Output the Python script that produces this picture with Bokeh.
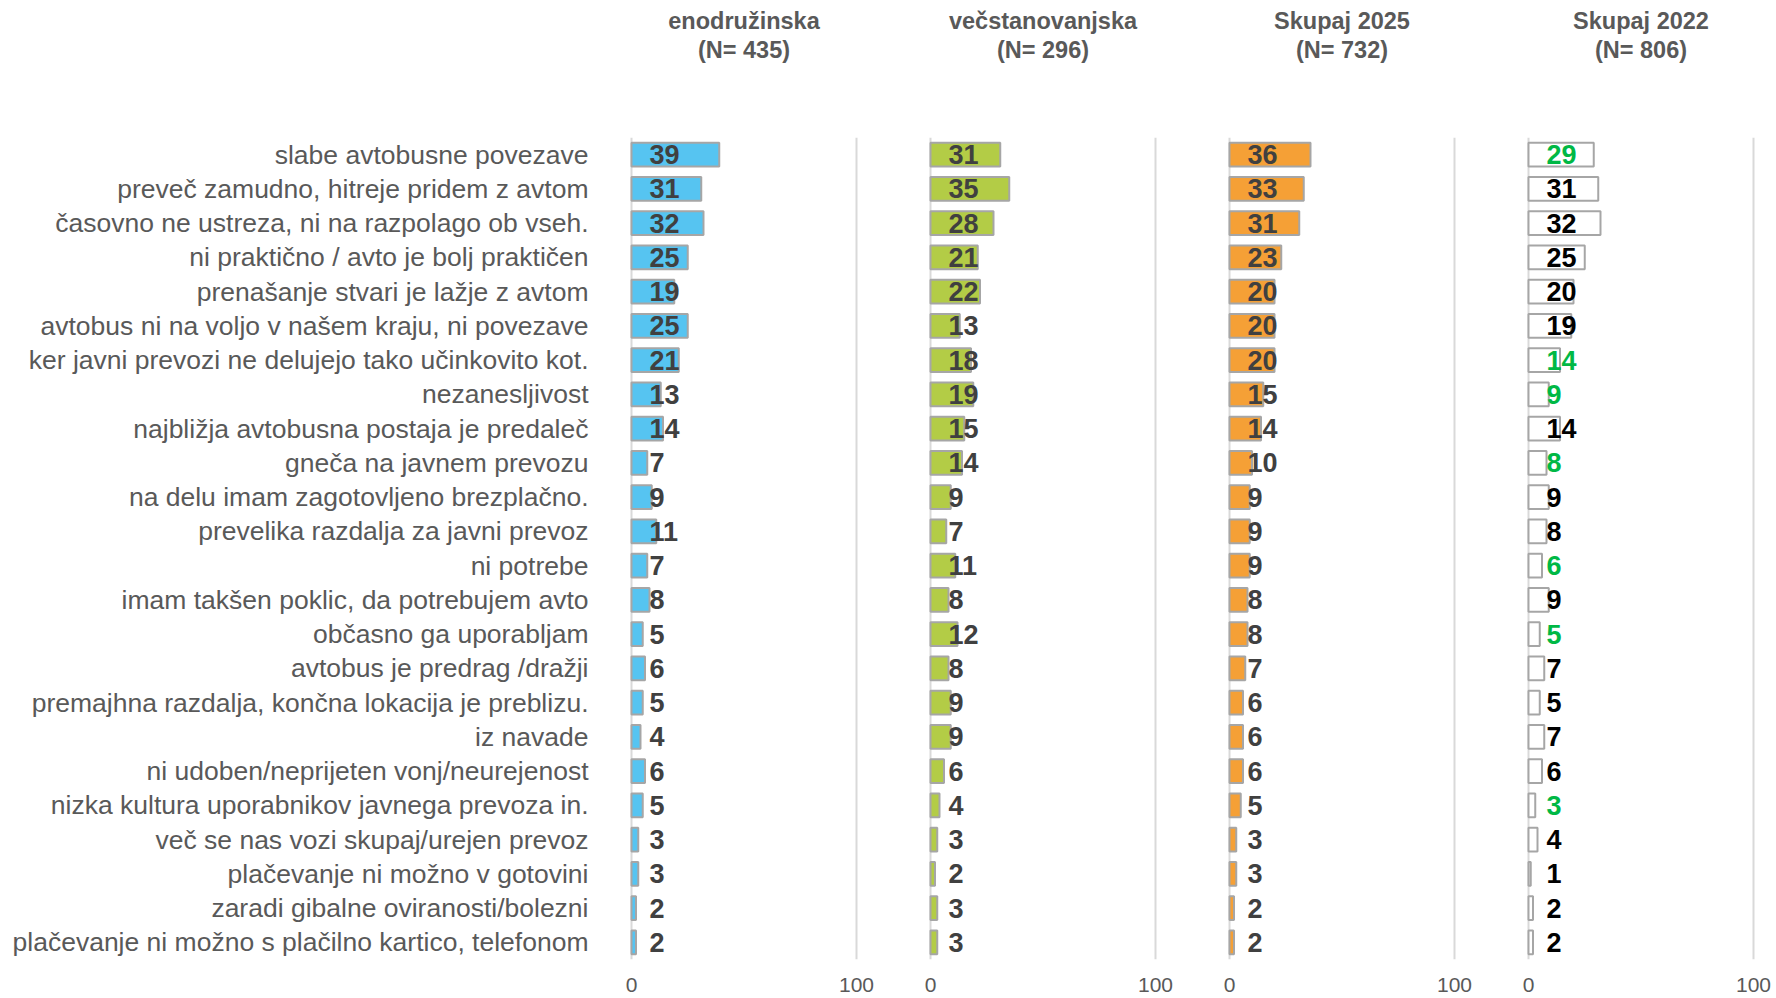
from bokeh.plotting import figure
from bokeh.models import ColumnDataSource, FactorRange, Range1d, FixedTicker, Title
from bokeh.layouts import row
from bokeh.core.properties import value
from bokeh.embed import file_html
from bokeh.resources import INLINE

categories = [
    "slabe avtobusne povezave",
    "preveč zamudno, hitreje pridem z avtom",
    "časovno ne ustreza, ni na razpolago ob vseh.",
    "ni praktično / avto je bolj praktičen",
    "prenašanje stvari je lažje z avtom",
    "avtobus ni na voljo v našem kraju, ni povezave",
    "ker javni prevozi ne delujejo tako učinkovito kot.",
    "nezanesljivost",
    "najbližja avtobusna postaja je predaleč",
    "gneča na javnem prevozu",
    "na delu imam zagotovljeno brezplačno.",
    "prevelika razdalja za javni prevoz",
    "ni potrebe",
    "imam takšen poklic, da potrebujem avto",
    "občasno ga uporabljam",
    "avtobus je predrag /dražji",
    "premajhna razdalja, končna lokacija je preblizu.",
    "iz navade",
    "ni udoben/neprijeten vonj/neurejenost",
    "nizka kultura uporabnikov javnega prevoza in.",
    "več se nas vozi skupaj/urejen prevoz",
    "plačevanje ni možno v gotovini",
    "zaradi gibalne oviranosti/bolezni",
    "plačevanje ni možno s plačilno kartico, telefonom",
]

enodruzinska = [39, 31, 32, 25, 19, 25, 21, 13, 14, 7, 9, 11, 7, 8, 5, 6, 5, 4, 6, 5, 3, 3, 2, 2]
vecstanovanjska = [31, 35, 28, 21, 22, 13, 18, 19, 15, 14, 9, 7, 11, 8, 12, 8, 9, 9, 6, 4, 3, 2, 3, 3]
skupaj_2025 = [36, 33, 31, 23, 20, 20, 20, 15, 14, 10, 9, 9, 9, 8, 8, 7, 6, 6, 6, 5, 3, 3, 2, 2]
skupaj_2022 = [29, 31, 32, 25, 20, 19, 14, 9, 14, 8, 9, 8, 6, 9, 5, 7, 5, 7, 6, 3, 4, 1, 2, 2]
# values highlighted green in 2022 column
highlight_2022 = [1, 0, 0, 0, 0, 0, 1, 1, 0, 1, 0, 0, 1, 0, 1, 0, 0, 0, 0, 1, 0, 0, 0, 0]

panel_names = ["enodružinska", "večstanovanjska", "Skupaj 2025", "Skupaj 2022"]
panel_n = ["(N= 435)", "(N= 296)", "(N= 732)", "(N= 806)"]
tick_values = [0, 100]

FONT = "Liberation Sans"
GRAY_TXT = "#595959"
LBL_TXT = "#404040"

y_range = FactorRange(factors=list(reversed(categories)), range_padding=0)

panels = [
    (enodruzinska, "#56C4F1", [LBL_TXT] * len(categories)),
    (vecstanovanjska, "#B3CC46", [LBL_TXT] * len(categories)),
    (skupaj_2025, "#F5A036", [LBL_TXT] * len(categories)),
    (skupaj_2022, "#FFFFFF", ["#00B845" if h else "#000000" for h in highlight_2022]),
]

H = 998
TOP = 137
BOTTOM = 39
FRAME_W = 243
borders = [(622, 28), (28, 28), (28, 28), (28, 10)]

figs = []
for i, (vals, color, txtcol) in enumerate(panels):
    bl, br = borders[i]
    p = figure(width=bl + FRAME_W + br, height=H, y_range=y_range,
               x_range=Range1d(-4, 104), output_backend="svg", toolbar_location=None,
               min_border_left=bl, min_border_right=br, min_border_top=TOP,
               min_border_bottom=BOTTOM)
    src = ColumnDataSource(dict(cat=categories, v=vals, base=[0] * len(vals),
                                lbl=[str(v) for v in vals], tc=txtcol))
    p.hbar(y="cat", left="base", right="v", height=0.7, source=src,
           fill_color=color, line_color="#A6A6A6", line_width=2)
    p.text(x="base", y="cat", text="lbl", source=src, x_offset=18,
           text_align="left", text_baseline="middle",
           text_font=value(FONT), text_font_style="bold", text_font_size="27px",
           text_color="tc")

    p.xaxis.ticker = FixedTicker(ticks=tick_values)
    p.xaxis.axis_line_color = None
    p.xaxis.major_tick_line_color = None
    p.xaxis.minor_tick_line_color = None
    p.xaxis.major_label_text_font = FONT
    p.xaxis.major_label_text_font_size = "21px"
    p.xaxis.major_label_text_color = GRAY_TXT
    p.xaxis.major_label_standoff = 12

    p.xgrid.ticker = FixedTicker(ticks=tick_values)
    p.xgrid.grid_line_color = "#D9D9D9"
    p.xgrid.grid_line_width = 2
    p.ygrid.grid_line_color = None
    p.outline_line_color = None

    if i == 0:
        p.yaxis.axis_line_color = None
        p.yaxis.major_tick_line_color = None
        p.yaxis.major_tick_in = 0
        p.yaxis.major_tick_out = 0
        p.yaxis.major_label_text_font = FONT
        p.yaxis.major_label_text_font_size = "26.5px"
        p.yaxis.major_label_text_color = GRAY_TXT
        p.yaxis.major_label_standoff = 34
    else:
        p.yaxis.visible = False

    # spacer between header block and plot frame
    p.add_layout(Title(text=" ", align="center", text_font=FONT,
                       text_font_size="23px", standoff=47), "above")
    p.add_layout(Title(text=panel_n[i], align="center",
                       text_font=FONT, text_font_size="23.5px", text_font_style="bold",
                       text_color=GRAY_TXT, standoff=0), "above")
    p.add_layout(Title(text=panel_names[i], align="center", text_font=FONT,
                       text_font_size="23.5px", text_font_style="bold",
                       text_color=GRAY_TXT, standoff=2), "above")
    figs.append(p)

layout = row(*figs, spacing=0)
open("out.html", "w").write(file_html(layout, INLINE))
